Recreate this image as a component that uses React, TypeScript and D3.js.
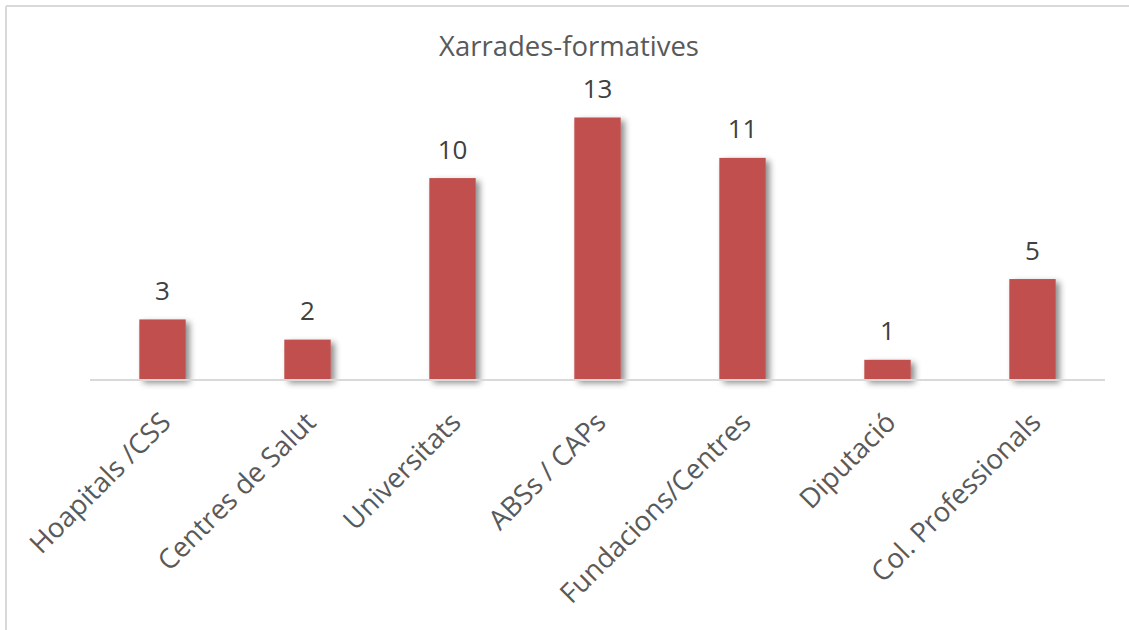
import React from "react";
import * as d3 from "d3";

const categories = [
  "Hoapitals /CSS",
  "Centres de Salut",
  "Universitats",
  "ABSs / CAPs",
  "Fundacions/Centres",
  "Diputació",
  "Col. Professionals",
];
const values = [3, 2, 10, 13, 11, 1, 5];
const title = "Xarrades-formatives";

const W = 1129;
const H = 630;
const FONT = "'Open Sans', sans-serif";

export default function App() {
  const x = d3
    .scaleBand<string>()
    .domain(categories)
    .range([90, 1105])
    .paddingInner(0.68)
    .paddingOuter(0.34);
  const y = d3.scaleLinear().domain([0, 13]).range([380, 117.5]);

  return (
    <svg
      width={W}
      height={H}
      style={{ position: "absolute", left: 0, top: 0, background: "#fff" }}
    >
      <defs>
        <filter id="sh" x="-50%" y="-50%" width="200%" height="200%">
          <feDropShadow dx="4" dy="3" stdDeviation="3" floodColor="#000" floodOpacity="0.45" />
        </filter>
      </defs>
      <rect x={0} y={0} width={W} height={H} fill="#fff" />
      <line x1={6} y1={6} x2={W} y2={6} stroke="#d9d9d9" strokeWidth={2} />
      <line x1={6} y1={6} x2={6} y2={H} stroke="#d9d9d9" strokeWidth={2} />
      <text
        x={569}
        y={56}
        textAnchor="middle"
        fontFamily={FONT}
        fontSize={27.5}
        fill="#595959"
      >
        {title}
      </text>
      {categories.map((c, i) => (
        <rect
          key={c}
          x={x(c)}
          y={y(values[i])}
          width={x.bandwidth()}
          height={y(0) - y(values[i])}
          fill="#C0504D"
          filter="url(#sh)"
        />
      ))}
      <line x1={90} y1={380} x2={1105} y2={380} stroke="#d9d9d9" strokeWidth={2} />
      {categories.map((c, i) => (
        <text
          key={c + "v"}
          x={(x(c) as number) + x.bandwidth() / 2}
          y={y(values[i]) - 19.5}
          textAnchor="middle"
          fontFamily={FONT}
          fontSize={26}
          fill="#404040"
        >
          {values[i]}
        </text>
      ))}
      {categories.map((c) => {
        const cx = (x(c) as number) + x.bandwidth() / 2;
        return (
          <text
            key={c + "l"}
            transform={`translate(${cx + 10},${424}) rotate(-45)`}
            textAnchor="end"
            fontFamily={FONT}
            fontSize={27.5}
            fill="#595959"
          >
            {c}
          </text>
        );
      })}
    </svg>
  );
}
